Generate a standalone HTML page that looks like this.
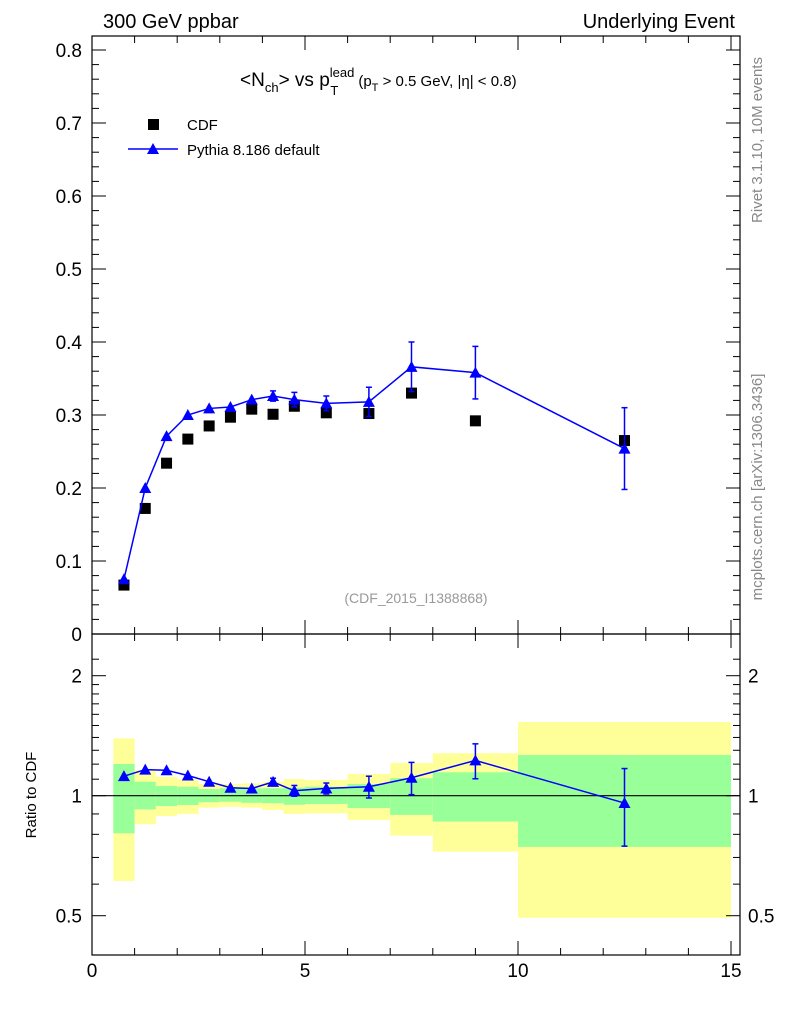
<!DOCTYPE html>
<html><head><meta charset="utf-8"><style>
html,body{margin:0;padding:0;background:#fff;}
svg{display:block;font-family:"Liberation Sans",sans-serif;}
</style></head><body>
<svg id="c" width="786" height="1024" viewBox="0 0 786 1024" xmlns="http://www.w3.org/2000/svg">
<text x="103" y="28" font-size="20">300 GeV ppbar</text>
<text x="735" y="28" font-size="20" text-anchor="end">Underlying Event</text>
<text x="240" y="86" font-size="19">&lt;N<tspan font-size="13" dy="6">ch</tspan><tspan dy="-6">&gt; vs p</tspan><tspan font-size="13" dy="-9">lead</tspan><tspan font-size="13" dx="-24" dy="18">T</tspan><tspan font-size="15" dx="20" dy="-9">(p</tspan><tspan font-size="11" dy="5">T</tspan><tspan font-size="15" dy="-5"> &gt; 0.5 GeV, |η| &lt; 0.8)</tspan></text>
<text transform="translate(762,140) rotate(-90)" font-size="15" fill="#888" text-anchor="middle">Rivet 3.1.10,  10M events</text>
<text transform="translate(762,487) rotate(-90)" font-size="15" fill="#888" text-anchor="middle">mcplots.cern.ch [arXiv:1306.3436]</text>
<text x="416" y="603" font-size="14" fill="#999" text-anchor="middle">(CDF_2015_I1388868)</text>
<text transform="translate(36,795) rotate(-90)" font-size="15" text-anchor="middle">Ratio to CDF</text>
<rect x="148" y="119" width="11" height="11" fill="#000"/>
<text x="187" y="130" font-size="15">CDF</text>
<line x1="128" y1="149" x2="178" y2="149" stroke="#00f" stroke-width="1.5"/>
<polygon points="153,143 159,154 147,154" fill="#00f"/>
<text x="187" y="155" font-size="15">Pythia 8.186 default</text>
<g id="g"></g>
</svg>
<script>
const xs = [0.75,1.25,1.75,2.25,2.75,3.25,3.75,4.25,4.75,5.5,6.5,7.5,9,12.5];
const cdfVals = [0.067,0.172,0.234,0.267,0.285,0.297,0.308,0.301,0.312,0.303,0.302,0.330,0.292,0.265];
const pyVals = [0.075,0.200,0.271,0.300,0.309,0.311,0.321,0.326,0.321,0.316,0.318,0.366,0.358,0.254];
const pyErr = [0.001,0.002,0.002,0.002,0.003,0.003,0.004,0.007,0.010,0.010,0.020,0.034,0.036,0.056];
const binEdges = [0.5,1,1.5,2,2.5,3,3.5,4,4.5,5,6,7,8,10,15];
const yelHi = [1.393,1.160,1.116,1.099,1.070,1.070,1.074,1.084,1.101,1.095,1.134,1.208,1.278,1.531];
const grnHi = [1.201,1.084,1.058,1.053,1.039,1.044,1.044,1.044,1.047,1.053,1.070,1.106,1.145,1.265];
const grnLo = [0.805,0.924,0.942,0.948,0.963,0.966,0.960,0.957,0.949,0.953,0.931,0.895,0.861,0.744];
const yelLo = [0.611,0.848,0.889,0.900,0.933,0.938,0.933,0.921,0.900,0.903,0.869,0.794,0.724,0.494];
const yTicks = [0,0.1,0.2,0.3,0.4,0.5,0.6,0.7,0.8];
const xTicks = [0,5,10,15];
const rTicks = [0.5,1,2];

const L=92,R=740,T=36,M=634,B=955;
const X=v=>L+v*(731-92)/15;
const Y=v=>634-v*730;
const RY=v=>795.7-120*Math.log2(v);
const g=document.getElementById('g');
const NS='http://www.w3.org/2000/svg';
function mk(t,a,p){const e=document.createElementNS(NS,t);for(const k in a)e.setAttribute(k,a[k]);(p||g).appendChild(e);return e;}

for(let i=0;i<yelHi.length;i++){
  const x1=X(binEdges[i]),x2=X(binEdges[i+1]);
  let e=mk('rect',{x:x1,y:RY(yelHi[i]),width:x2-x1,height:RY(yelLo[i])-RY(yelHi[i]),fill:'#ffff99'});
  
  
  e=mk('rect',{x:x1,y:RY(grnHi[i]),width:x2-x1,height:RY(grnLo[i])-RY(grnHi[i]),fill:'#99ff99'});
  
  
}
let ln=mk('line',{x1:L,x2:R,y1:RY(1),y2:RY(1),stroke:'#000','stroke-width':1.2});



let f=mk('rect',{x:L,y:T,width:R-L,height:M-T,fill:'none',stroke:'#000','stroke-width':1.2});


f=mk('rect',{x:L,y:M,width:R-L,height:B-M,fill:'none',stroke:'#000','stroke-width':1.2});



for(let v=0;v<=0.8001;v+=0.02){
  const maj=Math.abs(v*10-Math.round(v*10))<1e-6, len=maj?14:7, y=Y(v);
  mk('line',{x1:L,x2:L+len,y1:y,y2:y,stroke:'#000'});
  mk('line',{x1:R,x2:R-len,y1:y,y2:y,stroke:'#000'});
}
yTicks.forEach(v=>{const t=mk('text',{x:82,y:Y(v)+7,'font-size':19,'text-anchor':'end'});t.textContent=v===0?'0':v.toFixed(1);

});
[0.5,0.6,0.7,0.8,0.9,1,1.1,1.2,1.3,1.4,1.5,1.6,1.7,1.8,1.9,2,2.2].forEach(v=>{
  const maj=rTicks.includes(v),len=maj?14:7,y=RY(v);
  mk('line',{x1:L,x2:L+len,y1:y,y2:y,stroke:'#000'});
  mk('line',{x1:R,x2:R-len,y1:y,y2:y,stroke:'#000'});
});
rTicks.forEach(v=>{
  let t=mk('text',{x:82,y:RY(v)+7,'font-size':19,'text-anchor':'end'});t.textContent=String(v);
  
  
  t=mk('text',{x:748,y:RY(v)+7,'font-size':19});t.textContent=String(v);
  
  
});
for(let v=0;v<=15;v++){
  const maj=v%5===0,len=maj?14:7,x=X(v);
  [[M,-1],[B,-1],[T,1],[M,1]].forEach(([y0,d])=>mk('line',{x1:x,x2:x,y1:y0,y2:y0+d*len,stroke:'#000'}));
}
xTicks.forEach(v=>{const t=mk('text',{x:X(v),y:977,'font-size':19,'text-anchor':'middle'});t.textContent=String(v);

});

xs.forEach((x,i)=>{
  const r=mk('rect',{x:X(x)-5.5,y:Y(cdfVals[i])-5.5,width:11,height:11,fill:'#000'});
  
  
});
function series(yf,vals,errs,name){
  const pl=mk('polyline',{points:xs.map((x,i)=>X(x)+','+yf(vals[i])).join(' '),fill:'none',stroke:'#00f','stroke-width':1.5});
  
  
  xs.forEach((x,i)=>{
    const px=X(x),y1=yf(vals[i]+errs[i]),y2=yf(vals[i]-errs[i]);
    if(Math.abs(y2-y1)>6){
      mk('line',{x1:px,x2:px,y1:y1,y2:y2,stroke:'#00f','stroke-width':1.5});
      mk('line',{x1:px-3,x2:px+3,y1:y1,y2:y1,stroke:'#00f','stroke-width':1.5});
      mk('line',{x1:px-3,x2:px+3,y1:y2,y2:y2,stroke:'#00f','stroke-width':1.5});
    }
    const py=yf(vals[i]);
    const p=mk('polygon',{points:`${px},${py-6} ${px+6},${py+5} ${px-6},${py+5}`,fill:'#00f'});
    
    
  });
}
series(Y,pyVals,pyErr,'pythia');
const ratio=pyVals.map((v,i)=>v/cdfVals[i]);
const ratioErr=pyErr.map((e,i)=>e/cdfVals[i]);
series(RY,ratio,ratioErr,'pythia-ratio');
</script>
</body></html>
